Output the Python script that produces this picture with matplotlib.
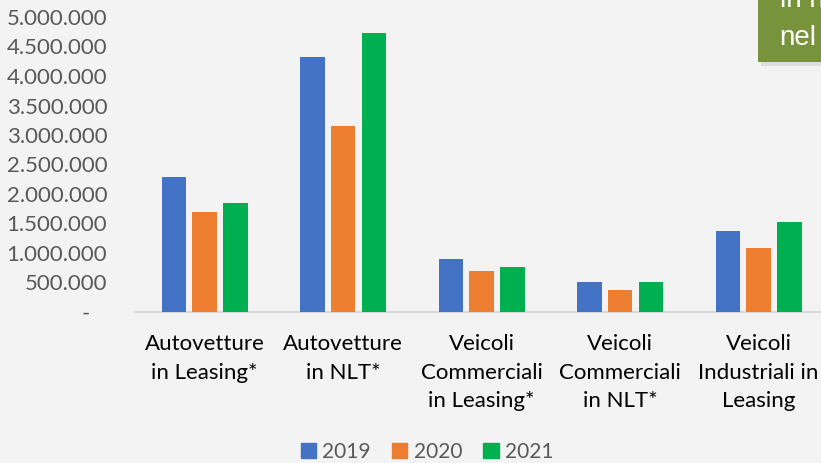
import matplotlib
matplotlib.use("Agg")
import matplotlib.pyplot as plt
import numpy as np
from matplotlib.patches import Rectangle, Patch
from matplotlib.ticker import FuncFormatter

categories = ["Autovetture\nin Leasing*", "Autovetture\nin NLT*",
              "Veicoli\nCommerciali\nin Leasing*", "Veicoli\nCommerciali\nin NLT*",
              "Veicoli\nIndustriali in\nLeasing"]
years = ["2019", "2020", "2021"]
v2019 = [2290000, 4330000, 900000, 510000, 1370000]
v2020 = [1700000, 3160000, 690000, 370000, 1090000]
v2021 = [1850000, 4730000, 760000, 510000, 1520000]
colors = ["#4472C4", "#ED7D31", "#00B050"]

plt.rcParams['font.family'] = ['Lato', 'DejaVu Sans']

W, H = 821, 463
fig = plt.figure(figsize=(W / 100, H / 100), dpi=100)
fig.patch.set_facecolor("#F3F3F3")

ax = fig.add_axes([135 / W, 1 - 312 / H, (W - 135) / W, (312 - 17) / H])
ax.set_facecolor("none")

x = np.arange(len(categories))
step = 0.222
bw = 0.177
for i, (vals, c) in enumerate(zip([v2019, v2020, v2021], colors)):
    ax.bar(x + (i - 1) * step, vals, width=bw, color=c, label=years[i], zorder=3)

ax.set_xlim(-0.502, 4.451)
ax.set_ylim(0, 5000000)
ax.set_yticks(np.arange(0, 5000001, 500000))


def fmt(v, pos):
    if v == 0:
        return "-   "
    return f"{int(v):,}".replace(",", ".")


ax.yaxis.set_major_formatter(FuncFormatter(fmt))
ax.set_xticks(x)
ax.set_xticklabels(categories, fontsize=16, color="black", linespacing=1.52)
ax.tick_params(axis="y", length=0, pad=20, labelsize=16, labelcolor="#595959")
ax.tick_params(axis="x", length=0, pad=16)
for s in ["top", "right", "left"]:
    ax.spines[s].set_visible(False)
ax.spines["bottom"].set_color("#D9D9D9")
ax.spines["bottom"].set_linewidth(1.5)

handles = [Patch(color=c, label=y) for c, y in zip(colors, years)]
fig.legend(handles=handles, loc="center", bbox_to_anchor=(427 / W, 1 - 452 / H),
           ncol=3, frameon=False, fontsize=15, labelcolor="#595959",
           handlelength=0.75, handleheight=0.75, handletextpad=0.3, columnspacing=1.0)

# green note box at top right, cut by the figure edge
fig.patches.append(Rectangle((761 / W, 1 - 66 / H), 70 / W, 66 / H, transform=fig.transFigure,
                             facecolor="#C8C8C8", edgecolor="none", alpha=0.5, zorder=1))
fig.patches.append(Rectangle((758 / W, 1 - 62 / H), 70 / W, 62 / H, transform=fig.transFigure,
                             facecolor="#77933C", edgecolor="none", zorder=2))
fig.text(780 / W, 1 - 7 / H, "in n", color="white", fontsize=20, family="Liberation Sans",
         va="baseline", ha="left", zorder=3)
fig.text(779 / W, 1 - 45 / H, "nel", color="white", fontsize=20, family="Liberation Sans",
         va="baseline", ha="left", zorder=3)

fig.savefig("out.png", dpi=100, facecolor=fig.get_facecolor())
